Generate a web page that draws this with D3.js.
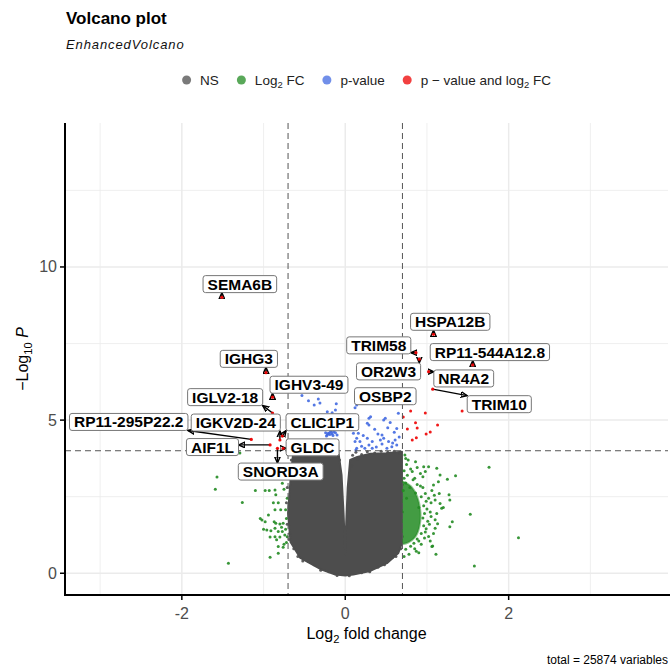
<!DOCTYPE html>
<html>
<head>
<meta charset="utf-8">
<script src="https://cdn.jsdelivr.net/npm/d3@7"></script>
<style>
  body { margin: 0; background: #fff; }
  svg { font-family: "Liberation Sans", Arial, sans-serif; }
</style>
</head>
<body>
<div id="chart"></div>
<script>
// cutoffs and axis ticks
const fcCutoff = 0.7, pCutoff = 4;
const xTicks = [-2, 0, 2], xMinor = [-3, -1, 1, 3];
const yTicks = [0, 5, 10], yMinor = [2.5, 7.5, 12.5];
const groupNames = ['NS', 'Log2 FC', 'p-value', 'p - value and log2 FC'];

// NS cloud outline [log2FC, -log10P]
const nsCloud = [[-0.64,3.86],[-0.55,3.96],[-0.31,3.96],[-0.086,3.99],[-0.045,3.2],[-0.02,1.9],[0.0,0.62],
  [0.01,1.5],[0.03,2.8],[0.06,3.70],[0.147,3.80],[0.306,3.90],[0.51,3.92],[0.694,3.97],[0.694,0.99],
  [0.65,0.66],[0.51,0.33],[0.306,0.075],[0.098,-0.04],[0.0,-0.07],[-0.122,-0.04],[-0.306,0.14],[-0.55,0.5],
  [-0.67,1.02],[-0.70,1.97],[-0.67,3.05]];
const nsDots = [[-0.66,3.70],[-0.60,3.93],[-0.52,3.98],[-0.44,3.90],[-0.36,3.97],[-0.27,3.93],[-0.19,3.98],
  [-0.12,3.95],[0.09,3.85],[0.13,3.95],[0.20,3.88],[0.27,3.97],[0.36,3.93],[0.44,3.98],[0.52,3.95],[0.60,3.98],
  [0.67,3.93],[-0.68,1.30],[-0.63,0.80],[-0.45,0.38],[-0.38,0.28],[-0.20,0.05],[0.20,0.02],[0.40,0.20],[0.58,0.52],
  [0.68,0.80],[-0.71,3.5],[-0.71,2.8],[-0.72,2.3],[-0.71,1.6],[-0.69,1.1],[-0.58,0.55],[-0.52,0.40],[-0.30,0.10],
  [-0.10,-0.07],[0.05,-0.08],[0.30,0.05],[0.48,0.28],[0.62,0.55],[0.70,1.2],[0.70,2.0],[0.70,2.9],[0.69,3.5],
  [-0.07,3.7],[0.08,3.5],[0.15,3.72],[0.24,3.83],[-0.62,3.60],[-0.48,3.80]];

// dense green core (right side) and single green points
const fcCore = [[0.70,3.0],[0.80,2.85],[0.88,2.5],[0.92,2.0],[0.91,1.55],[0.86,1.2],[0.77,1.0],[0.70,0.95]];
const fcDots = [[0.73,3.86],[0.77,3.70],[0.86,3.64],[0.96,3.48],[1.02,3.48],[1.12,3.43],[0.82,3.32],[0.92,3.26],
  [0.98,3.32],[1.16,3.21],[1.35,3.18],[1.25,3.07],[1.14,2.99],[1.08,2.88],[1.76,3.46],[1.27,2.56],[1.28,2.39],
  [1.10,2.39],[1.18,2.12],[1.53,1.93],[1.31,1.68],[1.28,1.52],[1.10,1.47],[1.06,0.87],[2.12,1.16],[1.58,0.24],
  [1.20,2.15],[1.07,0.89],[1.11,0.62],[0.90,0.67],[0.75,3.55],[0.80,3.40],[0.72,3.10],[0.85,3.10],[0.92,2.85],
  [0.98,2.60],[1.02,2.45],[1.05,2.30],[1.04,2.00],[1.05,1.85],[1.10,1.75],[1.03,1.60],[0.98,1.35],[1.02,1.20],
  [0.90,1.05],[0.85,0.80],[0.78,0.62],[0.72,0.55],[1.12,1.95],[1.15,2.60],[0.88,3.45],[0.74,3.75],[0.95,3.15],[1.06,2.70],
  [0.72,3.35],[0.76,3.20],[0.83,3.05],[0.74,2.95],[0.88,2.90],[0.79,2.80],[0.95,2.80],[0.71,2.70],[0.86,2.62],
  [0.93,2.50],[0.99,2.35],[0.75,2.45],[0.96,2.20],[0.90,2.15],[1.00,2.10],[0.97,1.95],[0.95,1.80],[1.01,1.70],
  [0.96,1.55],[0.99,1.45],[0.93,1.30],[0.97,1.15],[0.88,1.12],[0.84,0.98],[0.93,0.95],[0.80,0.88],[0.74,0.78],
  [0.87,0.72],[1.04,1.05],[1.08,1.30],[1.13,1.62],[1.16,2.28],[1.09,2.55],
  [-1.29,3.93],[-1.57,3.14],[-1.59,2.74],[-1.26,2.31],[-1.10,2.70],[-0.98,2.70],[-0.93,2.70],[-0.86,2.72],[-0.85,2.56],
  [-0.77,2.94],[-0.88,2.30],[-0.82,2.30],[-0.86,2.07],[-0.79,2.07],[-0.94,1.90],[-1.04,1.79],[-0.98,1.68],[-0.87,1.68],
  [-0.85,1.63],[-0.80,1.61],[-0.76,1.63],[-1.00,1.44],[-0.96,1.41],[-0.91,1.39],[-0.86,1.47],[-0.82,1.36],[-0.77,1.36],
  [-0.73,1.44],[-0.92,1.18],[-0.86,1.19],[-0.80,1.18],[-0.82,0.87],[-0.76,0.85],[-0.82,0.65],[-0.92,0.52],[-1.43,0.33],
  [-0.84,1.09],[-0.73,2.07],[-0.72,1.79],[-0.71,2.45],[-0.75,2.74],[-1.02,1.74],[-0.71,1.19],[-0.74,1.25],[-0.78,1.50],
  [-0.72,1.00],[-0.75,0.95]];

// blue points (p-value only)
const pDots = [[-0.53,5.80],[-0.45,5.63],[-0.38,5.49],[-0.33,5.69],[-0.31,5.56],[-0.22,5.27],[-0.16,5.24],[-0.12,5.33],
  [-0.11,5.53],[0.12,5.40],[0.14,5.49],[0.29,5.06],[0.27,4.90],[0.31,5.11],[0.47,5.00],[0.49,5.06],[0.55,4.92],
  [0.65,5.22],[0.63,4.73],[0.29,4.84],[0.16,4.57],[0.12,4.30],[0.18,4.30],[0.27,4.41],[0.33,4.30],[0.29,4.19],
  [0.43,4.35],[0.47,4.41],[0.53,4.30],[0.61,4.35],[0.63,4.19],[0.14,4.08],[0.24,4.08],[0.33,4.08],[0.51,4.08],
  [0.57,4.13],[-0.24,4.59],[-0.20,4.57],[-0.16,4.55],[-0.12,4.59],[-0.18,4.64],[-0.15,4.50],[-0.22,4.51],[0.14,4.41],
  [0.13,4.02],[0.45,4.51],[0.10,4.57],[-0.10,4.51],[-0.19,4.53],[-0.17,4.60],[-0.21,4.56],[-0.14,4.62],[-0.23,4.48],
  [0.20,4.15],[0.38,4.12],[0.45,4.22],[0.58,4.25],[0.66,4.45],[0.60,4.60],[0.40,4.55],[0.22,4.50],[0.36,4.70],[0.52,4.75]];

// red points (p-value and log2 FC), unlabelled
const bothDots = [[0.71,5.10],[0.80,5.30],[0.98,5.23],[0.86,4.91],[0.76,4.71],[0.88,4.74],[1.13,4.84],[1.04,4.61],
  [0.99,4.55],[0.87,4.42],[0.82,4.35],[1.43,5.30]];

// labelled genes: point and label position
const labelGenes = ['SEMA6B','HSPA12B','TRIM58','OR2W3','RP11-544A12.8','NR4A2','TRIM10','OSBP2','IGHG3','IGHV3-49',
  'IGLV2-18','IGKV2D-24','CLIC1P1','RP11-295P22.2','AIF1L','GLDC','SNORD3A'];
const labelFC = [-1.51,1.08,0.865,0.906,1.56,1.02,1.07,0.75,-0.97,-0.89,-0.89,-0.80,-0.77,-1.15,-0.92,-0.76,-0.83];
const labelP = [9.01,7.80,7.20,6.99,6.80,6.58,6.01,5.60,6.55,5.75,5.23,4.35,4.48,4.37,4.19,4.08,4.08];
const labelPosX = [-1.29,1.285,0.41,0.53,1.77,1.45,1.885,0.49,-1.18,-0.444,-1.47,-1.34,-0.28,-2.65,-1.625,-0.40,-0.79];
const labelPosY = [9.44,8.21,7.44,6.59,7.22,6.36,5.52,5.78,7.00,6.155,5.75,4.92,4.93,4.94,4.12,4.11,3.32];

(function() {
  'use strict';

  const W = 670, H = 669,
        panel = { left: 65, right: 668, top: 123, bottom: 595 },
        colors = ['#4D4D4D', '#228B22', '#4169E1', '#EE0000'],
        x = d3.scaleLinear().domain([-3.43, 3.95]).range([panel.left, panel.right]),
        y = d3.scaleLinear().domain([-0.71, 14.7]).range([panel.bottom, panel.top]);

  const svg = d3.select('#chart').append('svg').attr('width', W).attr('height', H);

  svg.append('defs').append('clipPath').attr('id', 'clip')
    .append('rect').attr('x', panel.left).attr('y', panel.top)
    .attr('width', panel.right - panel.left).attr('height', panel.bottom - panel.top);

  svg.select('defs').append('marker')
    .attr('id', 'arr').attr('viewBox', '0 0 10 10').attr('refX', 9).attr('refY', 5)
    .attr('markerWidth', 7).attr('markerHeight', 7).attr('markerUnits', 'userSpaceOnUse')
    .attr('orient', 'auto')
    .append('path').attr('d', 'M0,1 L9,5 L0,9 Z')
    .attr('fill', 'none').attr('stroke', '#000').attr('stroke-width', 2);

  // text with subscripts
  const subText = (sel, parts, size) => {
    parts.forEach(p => {
      if (p.sub) {
        sel.append('tspan').attr('dy', size * 0.25).attr('font-size', size * 0.7).text(p.t);
      } else {
        sel.append('tspan').attr('dy', p.after ? -size * 0.25 : null)
          .attr('font-style', p.it ? 'italic' : null).text(p.t);
      }
    });
    return sel;
  };

  // titles
  svg.append('text').attr('x', 66).attr('y', 24).attr('font-size', 17).attr('font-weight', 'bold')
    .text('Volcano plot');
  svg.append('text').attr('x', 66).attr('y', 49).attr('font-size', 13).attr('font-style', 'italic')
    .attr('letter-spacing', 0.9).attr('fill', '#111').text('EnhancedVolcano');

  // legend
  const legendParts = [
    [{ t: 'NS' }],
    [{ t: 'Log' }, { t: '2', sub: true }, { t: ' FC', after: true }],
    [{ t: 'p-value' }],
    [{ t: 'p \u2212 value and log' }, { t: '2', sub: true }, { t: ' FC', after: true }]
  ];
  const legend = svg.append('g');
  let lx = 0;
  legendParts.forEach((parts, i) => {
    const item = legend.append('g').attr('class', 'leg').attr('data-name', groupNames[i]);
    item.append('circle').attr('cx', lx + 4.5).attr('cy', 80).attr('r', 4.5)
      .attr('fill', colors[i]).attr('fill-opacity', 0.75);
    const t = subText(item.append('text').attr('x', lx + 18).attr('y', 84.5).attr('font-size', 13.5)
      .attr('fill', '#222'), parts, 13.5);
    lx += 18 + t.node().getComputedTextLength() + 18;
  });
  lx -= 18;
  legend.attr('transform', `translate(${(panel.left + panel.right) / 2 - lx / 2},0)`);

  // grid
  const grid = svg.append('g');
  grid.selectAll('.vmin').data(xMinor).enter().append('line')
    .attr('x1', d => x(d)).attr('x2', d => x(d)).attr('y1', panel.top).attr('y2', panel.bottom)
    .attr('stroke', '#EBEBEB').attr('stroke-width', 0.8);
  grid.selectAll('.hmin').data(yMinor).enter().append('line')
    .attr('y1', d => y(d)).attr('y2', d => y(d)).attr('x1', panel.left).attr('x2', panel.right)
    .attr('stroke', '#EBEBEB').attr('stroke-width', 0.8);
  grid.selectAll('.vmaj').data(xTicks).enter().append('line')
    .attr('x1', d => x(d)).attr('x2', d => x(d)).attr('y1', panel.top).attr('y2', panel.bottom)
    .attr('stroke', '#EBEBEB').attr('stroke-width', 1.5);
  grid.selectAll('.hmaj').data(yTicks).enter().append('line')
    .attr('y1', d => y(d)).attr('y2', d => y(d)).attr('x1', panel.left).attr('x2', panel.right)
    .attr('stroke', '#EBEBEB').attr('stroke-width', 1.5);

  const plot = svg.append('g').attr('clip-path', 'url(#clip)');

  // NS cloud
  plot.append('path').datum(nsCloud)
    .attr('d', d3.line().x(d => x(d[0])).y(d => y(d[1])).curve(d3.curveLinearClosed))
    .attr('fill', colors[0]).attr('stroke', colors[0]).attr('stroke-width', 2)
    .attr('stroke-linejoin', 'round');

  const dots = (data, col) => plot.append('g').selectAll('circle').data(data).enter().append('circle')
    .attr('cx', d => x(d[0])).attr('cy', d => y(d[1])).attr('r', 1.5)
    .attr('fill', col).attr('fill-opacity', 0.9);

  dots(nsDots, colors[0]);

  plot.append('path').datum(fcCore)
    .attr('d', d3.line().x(d => x(d[0])).y(d => y(d[1])).curve(d3.curveCatmullRom))
    .attr('fill', colors[1]).attr('fill-opacity', 0.85)
    .attr('stroke', colors[1]).attr('stroke-width', 2).attr('stroke-opacity', 0.5);

  dots(fcDots, colors[1]);
  dots(pDots, colors[2]);
  dots(bothDots, colors[3]);

  // cutoff lines
  const cut = svg.append('g').attr('stroke', '#555').attr('stroke-width', 1).attr('stroke-dasharray', '6,4');
  [-fcCutoff, fcCutoff].forEach(v => cut.append('line')
    .attr('x1', x(v)).attr('x2', x(v)).attr('y1', panel.top).attr('y2', panel.bottom));
  cut.append('line').attr('x1', panel.left).attr('x2', panel.right)
    .attr('y1', y(pCutoff)).attr('y2', y(pCutoff));

  // axes
  const axes = svg.append('g');
  axes.append('line').attr('x1', panel.left).attr('x2', panel.left).attr('y1', panel.top).attr('y2', panel.bottom + 1)
    .attr('stroke', '#000').attr('stroke-width', 2);
  axes.append('line').attr('x1', panel.left - 1).attr('x2', panel.right + 2).attr('y1', panel.bottom).attr('y2', panel.bottom)
    .attr('stroke', '#000').attr('stroke-width', 2);
  xTicks.forEach(v => {
    axes.append('line').attr('x1', x(v)).attr('x2', x(v)).attr('y1', panel.bottom).attr('y2', panel.bottom + 5)
      .attr('stroke', '#000').attr('stroke-width', 1.5);
    axes.append('text').attr('x', x(v)).attr('y', panel.bottom + 24).attr('text-anchor', 'middle')
      .attr('font-size', 16).attr('fill', '#4D4D4D').text(v);
  });
  yTicks.forEach(v => {
    axes.append('line').attr('x1', panel.left - 5).attr('x2', panel.left).attr('y1', y(v)).attr('y2', y(v))
      .attr('stroke', '#000').attr('stroke-width', 1.5);
    axes.append('text').attr('x', panel.left - 8).attr('y', y(v) + 5.5).attr('text-anchor', 'end')
      .attr('font-size', 16).attr('fill', '#4D4D4D').text(v);
  });

  subText(svg.append('text').attr('x', (panel.left + panel.right) / 2).attr('y', 639)
    .attr('text-anchor', 'middle').attr('font-size', 16),
    [{ t: 'Log' }, { t: '2', sub: true }, { t: ' fold change', after: true }], 16);

  subText(svg.append('text').attr('transform', 'translate(28,359) rotate(-90)')
    .attr('text-anchor', 'middle').attr('font-size', 16),
    [{ t: '\u2212Log' }, { t: '10', sub: true }, { t: ' ', after: true }, { t: 'P', it: true }], 16);

  svg.append('text').attr('x', 668).attr('y', 664).attr('text-anchor', 'end')
    .attr('font-size', 12).text('total = 25874 variables');

  // labels with connectors; labelled points drawn above the segments
  const lab = svg.append('g');
  const segs = lab.append('g'), labDots = lab.append('g'), boxes = lab.append('g');
  labelGenes.forEach((g, i) => {
    const cx = x(labelPosX[i]), cy = y(labelPosY[i]);
    const item = boxes.append('g');
    const rect = item.append('rect');
    const t = item.append('text').attr('x', cx).attr('y', cy + 5.5).attr('text-anchor', 'middle')
      .attr('font-size', 15.5).attr('font-weight', 'bold').text(g);
    const w = t.node().getComputedTextLength() + 9, h = 17;
    const bx = cx - w / 2, by = cy - h / 2;
    rect.attr('x', bx).attr('y', by).attr('width', w).attr('height', h).attr('rx', 2.5)
      .attr('fill', '#fff').attr('stroke', '#777').attr('stroke-width', 1);

    const px = x(labelFC[i]), py = y(labelP[i]);
    labDots.append('circle').attr('cx', px).attr('cy', py).attr('r', 1.6)
      .attr('fill', colors[3]).attr('fill-opacity', 0.95);
    const qx = Math.max(bx, Math.min(bx + w, px)), qy = Math.max(by, Math.min(by + h, py));
    const dist = Math.hypot(qx - px, qy - py);
    if (dist > 2) {
      segs.append('line').attr('x1', px).attr('y1', py).attr('x2', qx).attr('y2', qy)
        .attr('stroke', '#000').attr('stroke-width', 1.4).attr('marker-end', 'url(#arr)');
    }
  });
})();
</script>
</body>
</html>
